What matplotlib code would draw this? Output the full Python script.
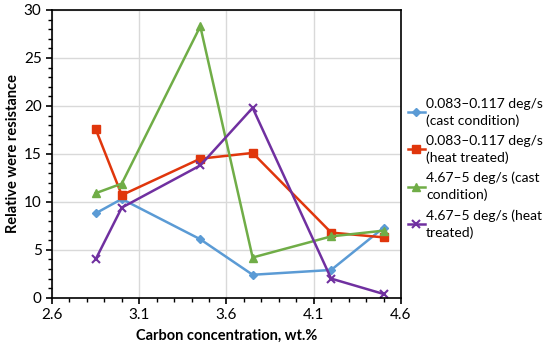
import matplotlib
matplotlib.use("Agg")
import matplotlib.pyplot as plt
from matplotlib.ticker import MultipleLocator
import numpy as np

plt.rcParams['font.family'] = ['Lato', 'DejaVu Sans']

# carbon concentration, wt.%
carbon = [2.85, 3.0, 3.45, 3.75, 4.2, 4.5]

# relative wear resistance per series
slow_cast = [8.8, 10.3, 6.1, 2.4, 2.9, 7.3]
slow_heat = [17.6, 10.7, 14.5, 15.1, 6.8, 6.3]
fast_cast = [10.9, 11.9, 28.3, 4.2, 6.4, 7.0]
fast_heat = [4.0, 9.4, 13.8, 19.8, 2.0, 0.4]

labels = ['0.083\u20130.117 deg/s\n(cast condition)',
          '0.083\u20130.117 deg/s\n(heat treated)',
          '4.67\u20135 deg/s (cast\ncondition)',
          '4.67\u20135 deg/s (heat\ntreated)']

fig = plt.figure(figsize=(5.5, 3.52), dpi=100)
ax = fig.add_axes([0.0945, 0.154, 0.6345, 0.8176])

ax.plot(carbon, slow_cast, color='#5B9BD5', marker='D', ms=4, lw=1.8, label=labels[0])
ax.plot(carbon, slow_heat, color='#E0360C', marker='s', ms=5.5, lw=1.8, label=labels[1])
ax.plot(carbon, fast_cast, color='#70AD47', marker='^', ms=6, lw=1.8, label=labels[2])
ax.plot(carbon, fast_heat, color='#7030A0', marker='x', ms=6, mew=1.5, lw=1.8, label=labels[3])

ax.set_xlim(2.6, 4.6)
ax.set_ylim(0, 30)
ax.set_xticks([2.6, 3.1, 3.6, 4.1, 4.6])
ax.set_xticklabels(['2.6', '3.1', '3.6', '4.1', '4.6'])
ax.xaxis.set_minor_locator(MultipleLocator(0.1))
ax.yaxis.set_major_locator(MultipleLocator(5))
ax.yaxis.set_minor_locator(MultipleLocator(1))
ax.grid(True, which='major', color='#D9D9D9', lw=1)
ax.set_axisbelow(True)
ax.tick_params(which='major', direction='out', length=4, width=1.2, labelsize=11)
ax.tick_params(which='minor', direction='out', length=3, width=1)
for s in ax.spines.values():
    s.set_linewidth(1.2)
    s.set_color('black')

ax.set_xlabel('Carbon concentration, wt.%', fontsize=10.5, fontweight='bold', labelpad=5)
ax.set_ylabel('Relative were resistance', fontsize=10.5, fontweight='bold', labelpad=3)

leg = ax.legend(loc='center left', bbox_to_anchor=(1.0, 0.45), frameon=False,
                fontsize=10, handlelength=1.2, handletextpad=0.1, labelspacing=0.55,
                borderaxespad=0.1)
for t in leg.get_texts():
    t.set_linespacing(1.45)

fig.savefig('out.png', dpi=100)
